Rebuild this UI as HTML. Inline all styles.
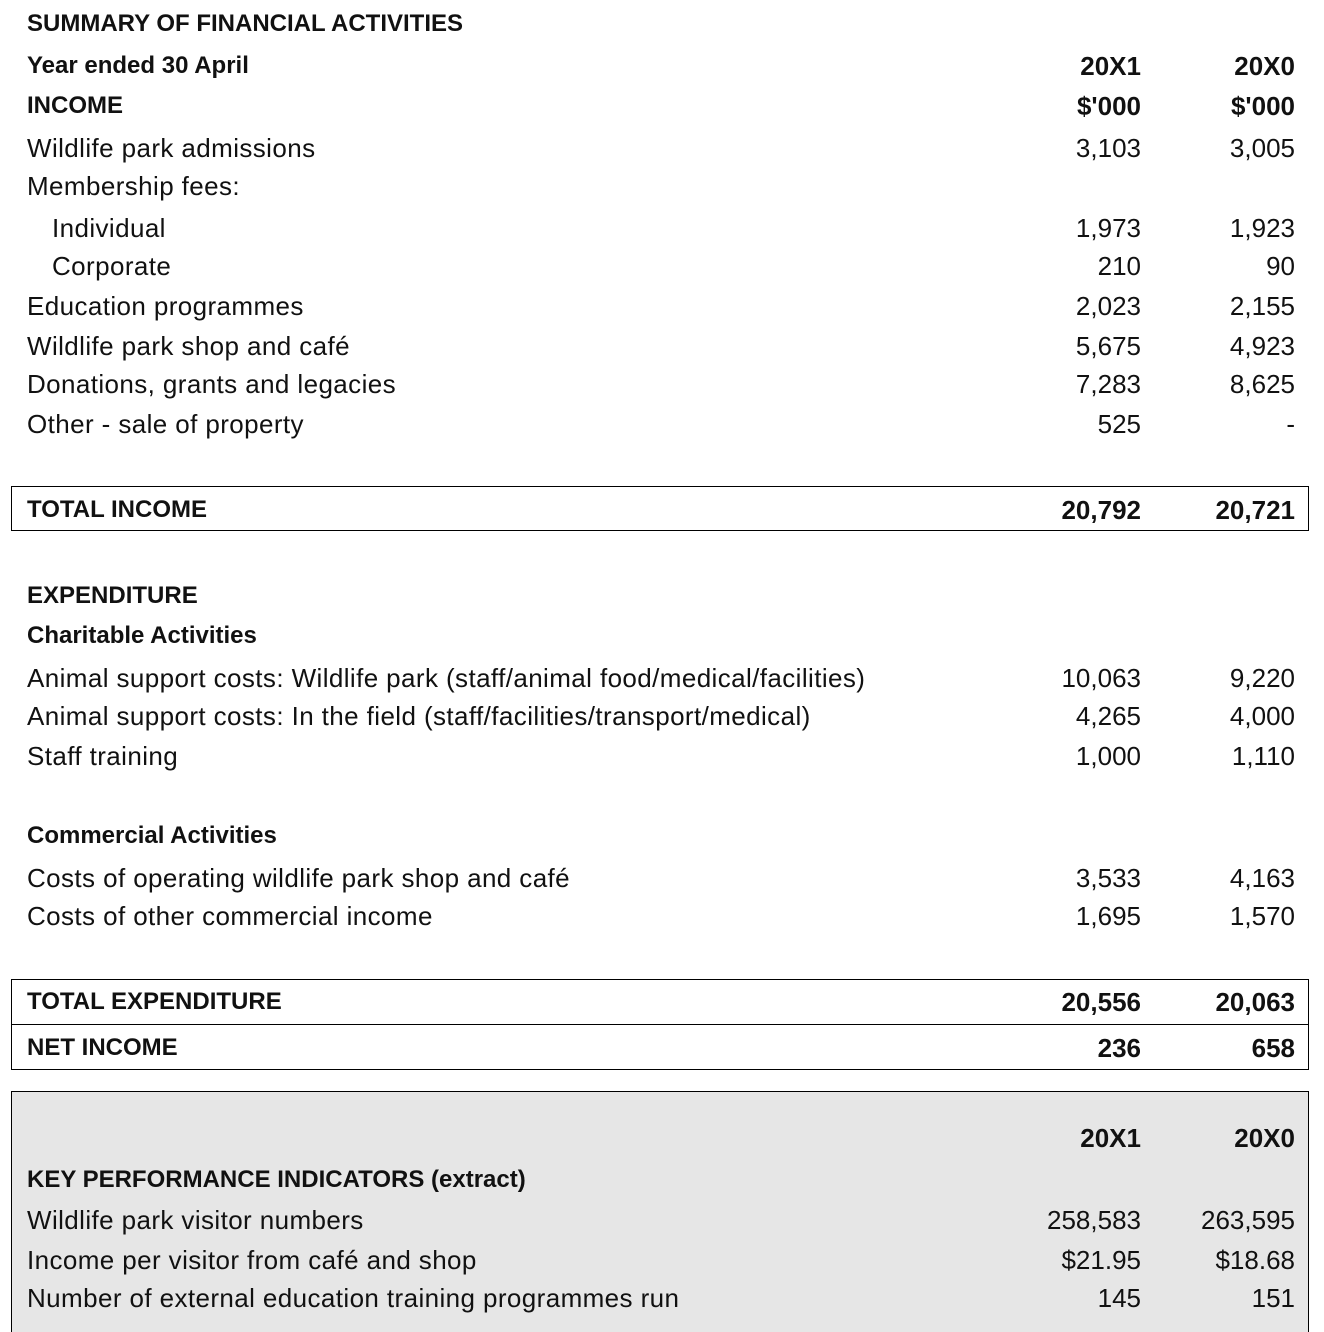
<!DOCTYPE html>
<html><head><meta charset="utf-8"><style>
body{margin:0;width:1324px;height:1326px;background:#fff;position:relative;overflow:hidden;font-family:"Liberation Sans",sans-serif;font-size:26px;color:#111}
.r{position:absolute;left:0;width:1324px;height:30px;line-height:30px}
.l{position:absolute;left:27px;white-space:nowrap;letter-spacing:0.4px}
.B .l{font-size:24px;letter-spacing:0}
.i{left:52px}
.a{position:absolute;right:183px;text-align:right}
.b{position:absolute;right:29px;text-align:right}
.B{font-weight:bold}
.box{position:absolute;left:11px;width:1296px;border:1.5px solid #000}
</style></head><body>
<div class="box" style="top:486px;height:43px"></div>
<div class="box" style="top:979px;height:89px"></div>
<div style="position:absolute;left:11px;top:1024px;width:1298px;border-top:1.5px solid #000"></div>
<div style="position:absolute;left:11px;top:1091px;width:1296px;height:240px;background:#e6e6e6;border:1.5px solid #000;border-bottom:none"></div>

<div class="r B" style="top:9px"><span class="l">SUMMARY OF FINANCIAL ACTIVITIES</span></div>
<div class="r B" style="top:51px"><span class="l">Year ended 30 April</span><span class="a">20X1</span><span class="b">20X0</span></div>
<div class="r B" style="top:91px"><span class="l">INCOME</span><span class="a">$'000</span><span class="b">$'000</span></div>
<div class="r" style="top:133px"><span class="l">Wildlife park admissions</span><span class="a">3,103</span><span class="b">3,005</span></div>
<div class="r" style="top:171px"><span class="l">Membership fees:</span></div>
<div class="r" style="top:213px"><span class="l i">Individual</span><span class="a">1,973</span><span class="b">1,923</span></div>
<div class="r" style="top:251px"><span class="l i">Corporate</span><span class="a">210</span><span class="b">90</span></div>
<div class="r" style="top:291px"><span class="l">Education programmes</span><span class="a">2,023</span><span class="b">2,155</span></div>
<div class="r" style="top:331px"><span class="l">Wildlife park shop and café</span><span class="a">5,675</span><span class="b">4,923</span></div>
<div class="r" style="top:369px"><span class="l">Donations, grants and legacies</span><span class="a">7,283</span><span class="b">8,625</span></div>
<div class="r" style="top:409px"><span class="l">Other - sale of property</span><span class="a">525</span><span class="b">-</span></div>
<div class="r B" style="top:495px"><span class="l">TOTAL INCOME</span><span class="a">20,792</span><span class="b">20,721</span></div>
<div class="r B" style="top:581px"><span class="l">EXPENDITURE</span></div>
<div class="r B" style="top:621px"><span class="l">Charitable Activities</span></div>
<div class="r" style="top:663px"><span class="l">Animal support costs: Wildlife park (staff/animal food/medical/facilities)</span><span class="a">10,063</span><span class="b">9,220</span></div>
<div class="r" style="top:701px"><span class="l">Animal support costs: In the field (staff/facilities/transport/medical)</span><span class="a">4,265</span><span class="b">4,000</span></div>
<div class="r" style="top:741px"><span class="l">Staff training</span><span class="a">1,000</span><span class="b">1,110</span></div>
<div class="r B" style="top:821px"><span class="l">Commercial Activities</span></div>
<div class="r" style="top:863px"><span class="l">Costs of operating wildlife park shop and café</span><span class="a">3,533</span><span class="b">4,163</span></div>
<div class="r" style="top:901px"><span class="l">Costs of other commercial income</span><span class="a">1,695</span><span class="b">1,570</span></div>
<div class="r B" style="top:987px"><span class="l">TOTAL EXPENDITURE</span><span class="a">20,556</span><span class="b">20,063</span></div>
<div class="r B" style="top:1033px"><span class="l">NET INCOME</span><span class="a">236</span><span class="b">658</span></div>
<div class="r B" style="top:1123px"><span class="a">20X1</span><span class="b">20X0</span></div>
<div class="r B" style="top:1165px"><span class="l">KEY PERFORMANCE INDICATORS (extract)</span></div>
<div class="r" style="top:1205px"><span class="l">Wildlife park visitor numbers</span><span class="a">258,583</span><span class="b">263,595</span></div>
<div class="r" style="top:1245px"><span class="l">Income per visitor from café and shop</span><span class="a">$21.95</span><span class="b">$18.68</span></div>
<div class="r" style="top:1283px"><span class="l">Number of external education training programmes run</span><span class="a">145</span><span class="b">151</span></div>
</body></html>
